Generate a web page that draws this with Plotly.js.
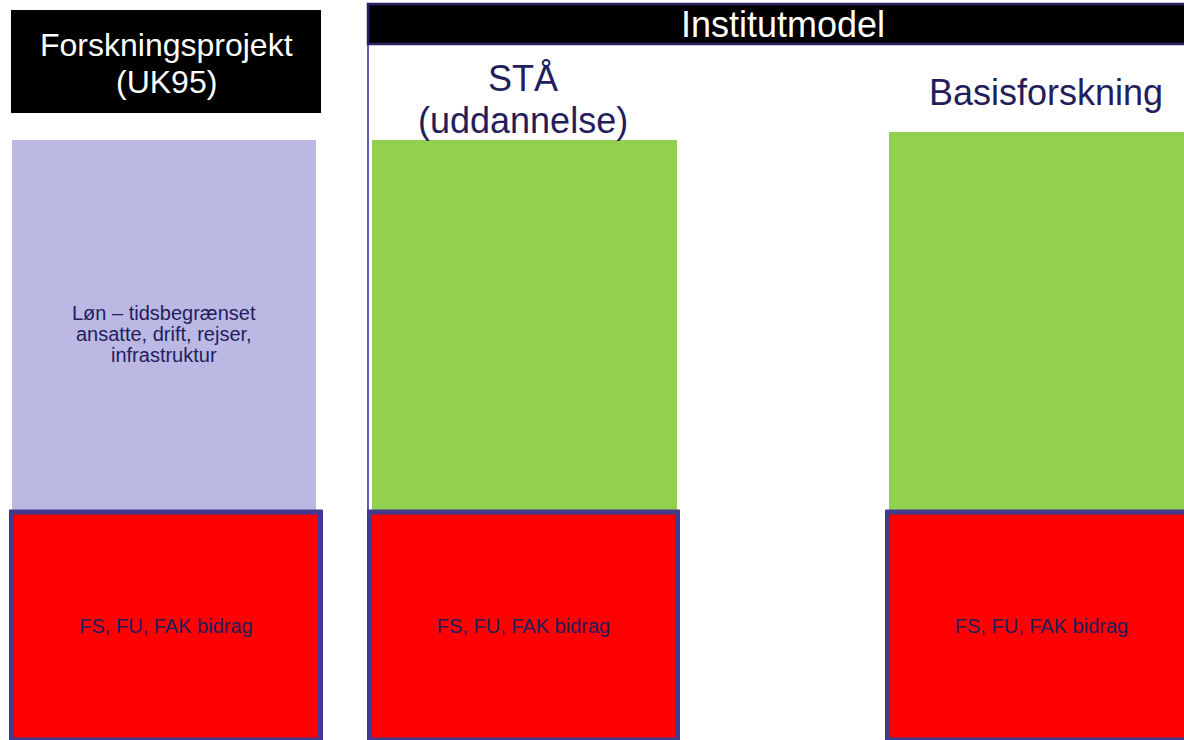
<!DOCTYPE html>
<html>
<head>
<meta charset="utf-8">
<script src="https://cdn.plot.ly/plotly-3.0.1.min.js"></script>
<style>html,body{margin:0;padding:0;background:#fff;}#chart{width:1184px;height:740px;}</style>
</head>
<body>
<div id="chart"></div>
<script>
// ---- data ----
const columns = ["Forskningsprojekt (UK95)", "STÅ (uddannelse)", "Basisforskning"];
const baseValues = [228, 228, 228];          // red "FS, FU, FAK bidrag" block
const baseLabels = ["FS, FU, FAK bidrag", "FS, FU, FAK bidrag", "FS, FU, FAK bidrag"];
const upperValues = [372, 372, 380];         // lavender / green upper blocks
const lavenderLines = ["Løn – tidsbegrænset", "ansatte, drift, rejser,", "infrastruktur"];
const groupTitle = "Institutmodel";

// ---- layout constants ----
const W = 1184, H = 740;
const xCenters = [166, 523.5, 1041.5];
const redWidths = [309, 308, 308];
const upperCenters = [164, 524.5, 1041.5];
const upperWidths = [304, 305, 305];
const upperColors = ["#bbb9e3", "#92d050", "#92d050"];
const navy = "#231d5c";
const font = "Liberation Sans, Arial, sans-serif";
const px = x => x / W;
const py = y => 1 - y / H;

const traces = [
  {
    type: "bar", x: upperCenters, y: upperValues, base: baseValues, width: upperWidths,
    marker: {color: upperColors, line: {width: 0}}, hoverinfo: "skip", showlegend: false
  },
  {
    type: "bar", x: xCenters, y: baseValues, width: redWidths,
    marker: {color: "#ff0000", line: {width: 5, color: "#413a8e"}},
    text: baseLabels, textposition: "inside", insidetextanchor: "middle",
    textangle: 0, constraintext: "none",
    textfont: {family: font, size: 20, color: navy},
    hoverinfo: "skip", showlegend: false
  }
];

const annotations = [
  {text: "Forskningsprojekt", x: px(166), y: py(45), size: 32, color: "#fff"},
  {text: "(UK95)", x: px(166), y: py(82), size: 32, color: "#fff"},
  {text: groupTitle, x: px(783), y: py(25), size: 36, color: "#fff"},
  {text: "STÅ", x: px(523), y: py(78), size: 36, color: navy},
  {text: "(uddannelse)", x: px(523), y: py(120), size: 36, color: navy},
  {text: columns[2], x: px(1046), y: py(92), size: 36, color: navy},
  {text: lavenderLines[0], x: px(164), y: py(313), size: 20, color: navy},
  {text: lavenderLines[1], x: px(164), y: py(334), size: 20, color: navy},
  {text: lavenderLines[2], x: px(164), y: py(355), size: 20, color: navy}
].map(a => ({
  text: a.text, x: a.x, y: a.y, xref: "paper", yref: "paper",
  xanchor: "center", yanchor: "middle", showarrow: false,
  font: {family: font, size: a.size, color: a.color}
}));

const shapes = [
  // left black header box
  {type: "rect", xref: "paper", yref: "paper", x0: px(11), x1: px(321), y0: py(113), y1: py(10),
   fillcolor: "#000", line: {width: 0}, layer: "above"},
  // Institutmodel frame left line
  {type: "line", xref: "paper", yref: "paper", x0: px(368), x1: px(368), y0: py(740), y1: py(4),
   line: {color: "#6259bd", width: 2}, layer: "below"},
  // Institutmodel header bar
  {type: "rect", xref: "paper", yref: "paper", x0: px(368), x1: px(1190), y0: py(44), y1: py(4),
   fillcolor: "#000", line: {color: "#2a2266", width: 2.5}, layer: "above"}
];

const layout = {
  width: W, height: H,
  margin: {l: 0, r: 0, t: 0, b: 0, pad: 0},
  paper_bgcolor: "#fff", plot_bgcolor: "#fff",
  barmode: "overlay",
  xaxis: {range: [0, W], visible: false, fixedrange: true},
  yaxis: {range: [0, H], visible: false, fixedrange: true},
  annotations: annotations, shapes: shapes, showlegend: false
};

Plotly.newPlot("chart", traces, layout, {displayModeBar: false, staticPlot: true});
</script>
</body>
</html>
